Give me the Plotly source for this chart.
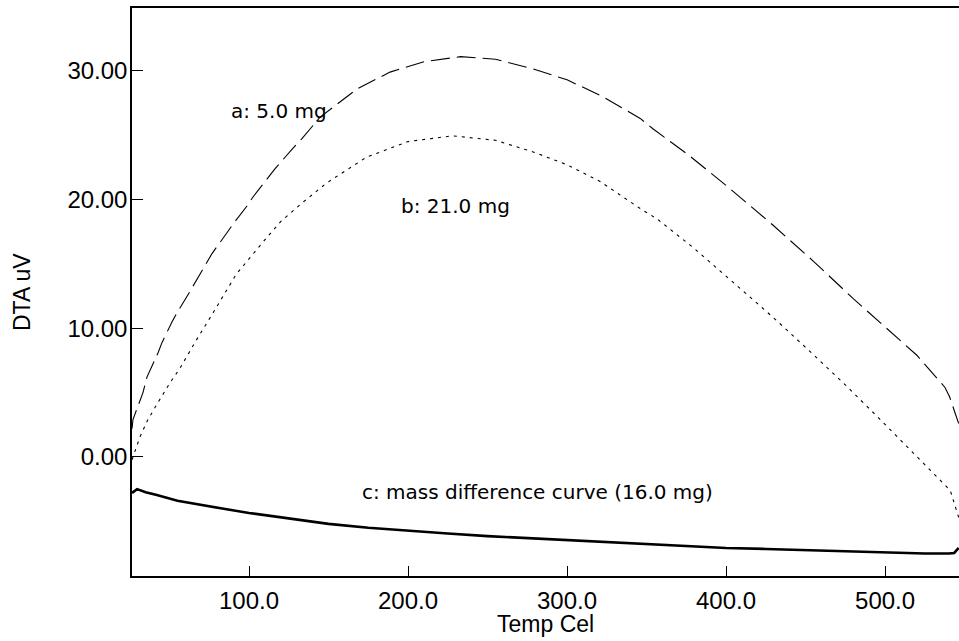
import plotly.graph_objects as go

# Curve a: 5.0 mg (long dashed)
temp_a = [26.4, 27.0, 33.3, 35.8, 42.8, 45.3, 51.6, 54.7, 61.6, 72.3, 76.7, 86.0, 90.0, 98.7,
          102.5, 113.2, 116.4, 127.7, 133.0, 144.7, 168.0, 188.7, 210.0, 233.0, 255.0, 278.6,
          300.0, 320.8, 346.0, 354.0, 377.0, 400.0, 429.6, 455.0, 480.0, 500.0, 520.0, 537.7,
          540.5, 546.3]
dta_a = [2.2, 2.9, 5.0, 6.2, 8.1, 8.9, 10.5, 11.2, 12.6, 14.8, 15.8, 17.4, 18.1, 19.5,
         20.2, 21.9, 22.4, 24.0, 24.7, 26.4, 28.6, 29.9, 30.7, 31.1, 30.9, 30.15,
         29.3, 28.1, 26.3, 25.5, 23.4, 21.1, 18.0, 15.2, 12.3, 10.1, 7.9, 5.4,
         4.7, 2.6]

# Curve b: 21.0 mg (dotted)
temp_b = [26.6, 27.0, 31.4, 36.0, 42.1, 50.0, 56.6, 66.0, 77.4, 92.0, 108.8, 120.0, 134.0,
          149.0, 174.0, 200.0, 228.0, 255.0, 278.6, 300.0, 320.8, 347.8, 356.6, 380.0,
          408.8, 430.0, 451.0, 475.0, 497.0, 524.0, 541.0, 546.3]
dta_b = [-0.2, 0.0, 1.55, 2.8, 4.1, 5.7, 6.9, 8.9, 11.2, 14.2, 16.7, 18.3, 19.8,
         21.3, 23.3, 24.5, 24.95, 24.6, 23.7, 22.7, 21.4, 19.15, 18.5, 16.2,
         13.1, 10.8, 8.4, 5.6, 2.9, -0.5, -2.6, -4.7]

# Curve c: mass difference curve 16.0 mg (solid)
temp_c = [26.4, 29.6, 35.0, 42.0, 55.0, 69.0, 85.0, 100.0, 125.0, 150.0, 175.0, 200.0,
          225.0, 250.0, 275.0, 300.0, 325.0, 350.0, 375.0, 400.0, 425.0, 450.0, 475.0, 500.0,
          525.0, 540.0, 543.5, 546.3]
dta_c = [-2.8, -2.5, -2.75, -2.95, -3.4, -3.73, -4.05, -4.35, -4.8, -5.2, -5.5, -5.75,
         -5.95, -6.15, -6.3, -6.45, -6.62, -6.8, -6.95, -7.07, -7.15, -7.25, -7.32, -7.42,
         -7.5, -7.5, -7.46, -7.07]

x_ticks = [100.0, 200.0, 300.0, 400.0, 500.0]
y_ticks = [0.0, 10.0, 20.0, 30.0]
x_range = [26.4, 546.5]
y_range = [-9.25, 34.88]

labels = ["a: 5.0 mg", "b: 21.0 mg", "c: mass difference curve (16.0 mg)"]
label_x = [118.9, 229.6, 281.7]
label_y = [26.9, 19.5, -2.7]

fig = go.Figure()
fig.add_trace(go.Scatter(x=temp_a, y=dta_a, mode="lines", name="a",
                         line=dict(color="black", width=1.1, dash="19px,7px")))
fig.add_trace(go.Scatter(x=temp_b, y=dta_b, mode="lines", name="b",
                         line=dict(color="black", width=1.1, dash="3px,5px")))
fig.add_trace(go.Scatter(x=temp_c, y=dta_c, mode="lines", name="c",
                         line=dict(color="black", width=2.6)))

for t, lx, ly in zip(labels, label_x, label_y):
    fig.add_annotation(x=lx, y=ly, xref="x", yref="y", text=t, showarrow=False,
                       xanchor="center", yanchor="middle",
                       font=dict(family="DejaVu Sans", size=20, color="black"))

fig.add_annotation(x=-0.133, y=0.5, xref="paper", yref="paper", text="DTA uV",
                   textangle=-90, showarrow=False, xanchor="center", yanchor="middle",
                   font=dict(family="Liberation Sans", size=23, color="black"))
fig.add_annotation(x=0.5, y=-0.084, xref="paper", yref="paper", text="Temp Cel",
                   showarrow=False, xanchor="center", yanchor="middle",
                   font=dict(family="Liberation Sans", size=23, color="black"))

fig.update_layout(
    width=959, height=641,
    margin=dict(l=132, r=0, t=8, b=65),
    paper_bgcolor="white", plot_bgcolor="white",
    showlegend=False,
    font=dict(family="Liberation Sans", size=24, color="black"),
)
fig.update_xaxes(range=x_range, tickvals=x_ticks, tickformat=".1f",
                 showgrid=False, zeroline=False, showline=True, linecolor="black",
                 linewidth=1.5, mirror=True, ticks="inside", ticklen=10, tickwidth=1.2,
                 tickcolor="black", ticklabelstandoff=2)
fig.update_yaxes(range=y_range, tickvals=y_ticks, tickformat=".2f",
                 showgrid=False, zeroline=False, showline=True, linecolor="black",
                 linewidth=1.5, mirror=False, ticks="inside", ticklen=11, tickwidth=1.2,
                 tickcolor="black", ticklabelstandoff=-2)

fig.write_html("out.html", config={"displayModeBar": False},
               post_script="document.body.style.margin='0';"
                           "document.body.style.overflow='hidden';")
